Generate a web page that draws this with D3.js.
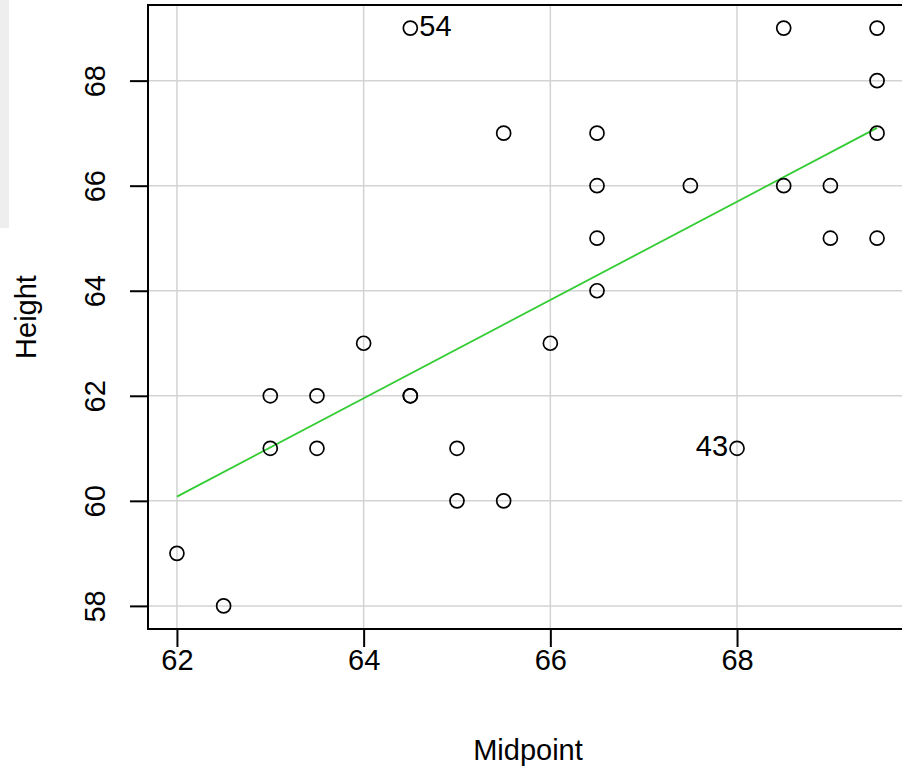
<!DOCTYPE html>
<html>
<head>
<meta charset="utf-8">
<script src="https://cdn.jsdelivr.net/npm/d3@7"></script>
<style>
  body { margin: 0; background: #fff; }
  svg text { font-family: "Liberation Sans", Arial, sans-serif; fill: #000; }
</style>
</head>
<body>
<svg id="chart" width="902" height="772"></svg>
<script>
// Data
const midpoint = [62, 62.5, 63, 63, 63.5, 63.5, 64, 64.5, 64.5, 64.5, 65, 65, 65.5, 65.5, 66,
    66.5, 66.5, 66.5, 66.5, 67.5, 68, 68.5, 68.5, 69, 69, 69.5, 69.5, 69.5, 69.5];
const height = [59, 58, 62, 61, 62, 61, 63, 62, 62, 69, 61, 60, 67, 60, 63,
    67, 66, 65, 64, 66, 61, 69, 66, 66, 65, 69, 68, 67, 65];
const pointIds = [null, null, null, null, null, null, null, null, null, "54", null, null, null, null, null,
    null, null, null, null, null, "43", null, null, null, null, null, null, null, null];
const fitX = [62, 69.5];
const fitY = [60.08, 67.1];
const xTicks = [62, 64, 66, 68];
const yTicks = [58, 60, 62, 64, 66, 68];

const plot = { left: 148, top: 5, right: 906, bottom: 629 };
const fontSize = 29;

const svg = d3.select("#chart");

// faint strip at top-left of the screenshot
svg.append("rect")
    .attr("x", 0).attr("y", 0)
    .attr("width", 9).attr("height", 228)
    .attr("fill", "#eeeeee");

const x = d3.scaleLinear()
    .domain([61.69, 69.81])
    .range([plot.left, plot.right]);

const y = d3.scaleLinear()
    .domain([57.56, 69.44])
    .range([plot.bottom, plot.top]);

// grid
svg.append("g").selectAll("line")
    .data(xTicks.concat([70]))
    .join("line")
    .attr("x1", d => x(d)).attr("x2", d => x(d))
    .attr("y1", plot.top).attr("y2", plot.bottom)
    .attr("stroke", "#d3d3d3").attr("stroke-width", 1.5);

svg.append("g").selectAll("line")
    .data(yTicks)
    .join("line")
    .attr("x1", plot.left).attr("x2", plot.right)
    .attr("y1", d => y(d)).attr("y2", d => y(d))
    .attr("stroke", "#d3d3d3").attr("stroke-width", 1.5);

// axes
const xAxis = svg.append("g")
    .attr("transform", `translate(0,${plot.bottom})`)
    .call(d3.axisBottom(x).tickValues(xTicks).tickSize(18).tickSizeOuter(0));
xAxis.select(".domain").remove();
xAxis.selectAll("line").attr("stroke", "#000").attr("stroke-width", 2);
xAxis.selectAll("text")
    .attr("font-size", fontSize)
    .attr("fill", "#000")
    .attr("y", 31)
    .attr("dy", "0.35em");

const yAxis = svg.append("g")
    .attr("transform", `translate(${plot.left},0)`)
    .call(d3.axisLeft(y).tickValues(yTicks).tickSize(18).tickSizeOuter(0));
yAxis.select(".domain").remove();
yAxis.selectAll("line").attr("stroke", "#000").attr("stroke-width", 2);
yAxis.selectAll("text")
    .attr("font-size", fontSize)
    .attr("fill", "#000")
    .attr("x", null)
    .attr("text-anchor", "middle")
    .attr("transform", "translate(-53,0) rotate(-90)")
    .attr("dy", "0.35em");

// box (right edge runs off the image)
svg.append("path")
    .attr("d", `M${plot.right},${plot.top}H${plot.left}V${plot.bottom}H${plot.right}`)
    .attr("fill", "none")
    .attr("stroke", "#000")
    .attr("stroke-width", 2);

// fitted line
svg.append("line")
    .attr("x1", x(fitX[0])).attr("y1", y(fitY[0]))
    .attr("x2", x(fitX[1])).attr("y2", y(fitY[1]))
    .attr("stroke", "#33cc33")
    .attr("stroke-width", 1.8);

// points
const pts = midpoint.map((m, i) => ({ x: m, y: height[i], id: pointIds[i] }));

svg.append("g").selectAll("circle")
    .data(pts)
    .join("circle")
    .attr("cx", d => x(d.x))
    .attr("cy", d => y(d.y))
    .attr("r", 7)
    .attr("fill", "none")
    .attr("stroke", "#000")
    .attr("stroke-width", 1.7);

// labels of flagged points
svg.append("g").selectAll("text")
    .data(pts.filter(d => d.id))
    .join("text")
    .attr("x", d => d.id === "54" ? x(d.x) + 9 : x(d.x) - 9)
    .attr("y", d => y(d.y) - 2)
    .attr("dy", "0.35em")
    .attr("text-anchor", d => d.id === "54" ? "start" : "end")
    .attr("font-size", fontSize)
    .text(d => d.id);

// axis titles
svg.append("text")
    .attr("x", 528).attr("y", 750)
    .attr("text-anchor", "middle")
    .attr("dy", "0.35em")
    .attr("font-size", fontSize)
    .text("Midpoint");

svg.append("text")
    .attr("transform", `translate(26,${(plot.top + plot.bottom) / 2}) rotate(-90)`)
    .attr("text-anchor", "middle")
    .attr("dy", "0.35em")
    .attr("font-size", fontSize)
    .text("Height");
</script>
</body>
</html>
